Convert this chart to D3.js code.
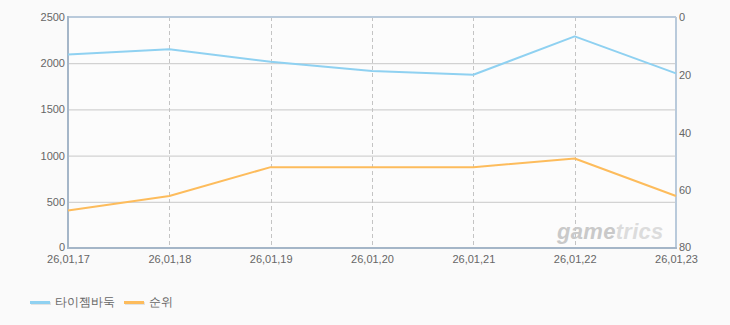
<!DOCTYPE html>
<html><head><meta charset="utf-8">
<script src="https://cdn.jsdelivr.net/npm/d3@7"></script>
<style>
html,body{margin:0;padding:0;background:#fafafa;}
text{font-family:"Liberation Sans",Arial,sans-serif;}
</style></head>
<body>
<svg id="c" width="730" height="325"></svg>
<script>
const dates = ["26,01,17","26,01,18","26,01,19","26,01,20","26,01,21","26,01,22","26,01,23"];
const scoreValues = [2095, 2150, 2015, 1915, 1875, 2290, 1890];
const rankValues = [67, 62, 52, 52, 52, 49, 62];
const leftTicks = [0, 500, 1000, 1500, 2000, 2500];
const rightTicks = [0, 20, 40, 60, 80];
const seriesNames = ["타이젬바둑", "순위"];
const colors = ["#8fd1f1", "#fdbc5c"];

const svg = d3.select("#c");
const L = 68, R = 676, T = 17, B = 248;
const x = d3.scalePoint().domain(dates).range([L, R]);
const yL = d3.scaleLinear().domain([0, 2500]).range([B, T]);
const yR = d3.scaleLinear().domain([0, 80]).range([T, B]);

svg.append("rect").attr("width",730).attr("height",325).attr("fill","#fafafa");
svg.append("rect").attr("x",L).attr("y",T).attr("width",R-L).attr("height",B-T).attr("fill","#fcfcfc");

// horizontal grid
svg.append("g").selectAll("line").data(leftTicks.filter(d=>d>0 && d<2500)).join("line")
  .attr("x1",L).attr("x2",R).attr("y1",d=>yL(d)+0.5).attr("y2",d=>yL(d)+0.5)
  .attr("stroke","#c8c8c8").attr("stroke-width",1);
// vertical dashed grid
svg.append("g").selectAll("line").data(dates.slice(1,-1)).join("line")
  .attr("x1",d=>Math.round(x(d))+0.5).attr("x2",d=>Math.round(x(d))+0.5).attr("y1",T).attr("y2",B)
  .attr("stroke","#c4c4c4").attr("stroke-width",1).attr("stroke-dasharray","4,3");

// watermark
const wm = svg.append("text").attr("x",557).attr("y",239).attr("font-size",22).attr("font-weight","bold")
  .attr("font-style","italic").attr("letter-spacing","0.3")
  .attr("font-family","'Liberation Sans',Arial,sans-serif");
wm.append("tspan").attr("fill","#c9c9c9").text("game");
wm.append("tspan").attr("fill","#dcdcdc").text("trics");

// frame
svg.append("line").attr("x1",L).attr("x2",R).attr("y1",T).attr("y2",T).attr("stroke","#b9cadb").attr("stroke-width",2);
svg.append("line").attr("x1",R).attr("x2",R).attr("y1",T).attr("y2",B).attr("stroke","#b9cadb").attr("stroke-width",2);
svg.append("line").attr("x1",L).attr("x2",L).attr("y1",T-1).attr("y2",B+1).attr("stroke","#a5b6c8").attr("stroke-width",2);
svg.append("line").attr("x1",L).attr("x2",R+1).attr("y1",B).attr("y2",B).attr("stroke","#a5b6c8").attr("stroke-width",2);

// axes labels
const lbl = {fill:"#666", size:11};
const gl = svg.append("g").attr("transform",`translate(${L},0)`)
  .call(d3.axisLeft(yL).tickValues(leftTicks).tickFormat(d3.format("d")).tickSize(0).tickPadding(3));
gl.select(".domain").remove();
gl.selectAll("text").attr("fill",lbl.fill).attr("font-size",lbl.size).attr("font-family","'Liberation Sans',Arial,sans-serif");
const gr = svg.append("g").attr("transform",`translate(${R},0)`)
  .call(d3.axisRight(yR).tickValues(rightTicks).tickSize(0).tickPadding(3));
gr.select(".domain").remove();
gr.selectAll("text").attr("fill",lbl.fill).attr("font-size",lbl.size).attr("font-family","'Liberation Sans',Arial,sans-serif");
gr.selectAll(".tick").filter(d=>d===80).select("text").attr("dy","0.2em");
gl.selectAll(".tick").filter(d=>d===0).select("text").attr("dy","0.2em");
const gx = svg.append("g").attr("transform",`translate(0,${B})`)
  .call(d3.axisBottom(x).tickSize(0).tickPadding(7));
gx.select(".domain").remove();
gx.selectAll("text").attr("fill",lbl.fill).attr("font-size",lbl.size).attr("font-family","'Liberation Sans',Arial,sans-serif");

// lines
const lineL = d3.line().x((d,i)=>x(dates[i])).y(d=>yL(d));
const lineR = d3.line().x((d,i)=>x(dates[i])).y(d=>yR(d));
svg.append("path").attr("d",lineL(scoreValues)).attr("fill","none").attr("stroke",colors[0]).attr("stroke-width",2).attr("stroke-linejoin","round");
svg.append("path").attr("d",lineR(rankValues)).attr("fill","none").attr("stroke",colors[1]).attr("stroke-width",2).attr("stroke-linejoin","round");

// legend
const leg = [{x:30},{x:124}];
seriesNames.forEach((n,i)=>{
  const g = svg.append("g");
  g.append("rect").attr("x",leg[i].x+1).attr("y",302).attr("width",20).attr("height",3).attr("fill","#e2e2e2");
  g.append("rect").attr("x",leg[i].x).attr("y",301).attr("width",20).attr("height",3).attr("fill",colors[i]);
  g.append("text").attr("x",leg[i].x+25).attr("y",306).attr("font-size",12).attr("fill","#666")
    .attr("font-family","'Noto Sans CJK KR',sans-serif").text(n);
});
</script>
</body></html>
